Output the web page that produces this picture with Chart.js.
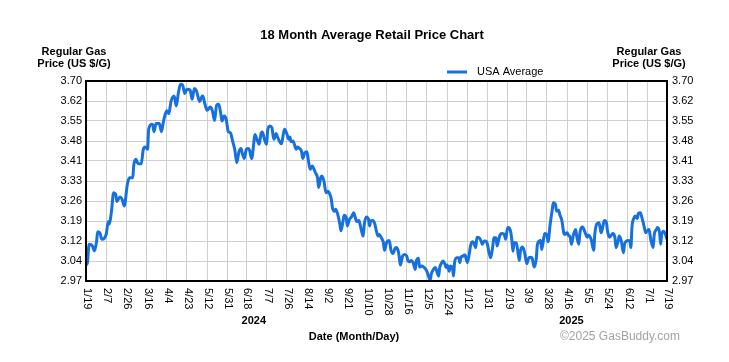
<!DOCTYPE html>
<html><head><meta charset="utf-8">
<script src="https://cdn.jsdelivr.net/npm/chart.js@4/dist/chart.umd.min.js"></script>
<style>html,body{margin:0;padding:0;background:#fff;}canvas{display:block;}</style>
</head><body>
<canvas id="c" width="729" height="362"></canvas>
<script>
const chartTitle = '18 Month Average Retail Price Chart';
const seriesName = 'USA Average';
const yAxisTitle = ['Regular Gas', 'Price (US $/G)'];
const xAxisTitle = 'Date (Month/Day)';
const credit = '\u00A92025 GasBuddy.com';

const yTickLabels = ['2.97','3.04','3.12','3.19','3.26','3.33','3.41','3.48','3.55','3.62','3.70'];
const yMin = 2.97, yMax = 3.70;

// days since 1/19/2024
const xTickDays = [0,19,38,57,76,95,114,133,151,170,189,208,227,246,265,283,302,321,340,359,378,397,415,434,453,472,491,510,529,547];
const xTickLabels = ['1/19','2/7','2/26','3/16','4/4','4/23','5/12','5/31','6/18','7/7','7/26','8/14','9/2','9/21','10/10','10/28','11/16','12/5','12/24','1/12','1/31','2/19','3/9','3/28','4/16','5/5','5/24','6/12','7/1','7/19'];
const yearLabels = ['2024','2025'];
const yearDays = [158, 457];

const days = [0,1,3,6,8,10,11,13,15,17,19,21,22,24,26,28,29,32,34,36,39,41,44,45,47,49,52,54,56,58,59,62,63,64,66,69,71,73,76,78,80,83,85,87,89,91,93,95,98,100,102,104,107,109,110,112,114,117,119,121,123,125,127,128,130,132,134,136,138,140,142,144,146,147,149,151,153,154,156,158,159,161,163,165,166,168,170,171,173,175,176,177,179,180,182,184,186,187,189,191,192,193,195,196,198,199,201,203,204,206,208,209,211,213,214,216,218,219,221,222,224,226,228,229,231,232,234,235,237,239,240,242,243,245,246,248,250,252,254,255,257,258,261,262,264,266,267,268,270,272,273,275,276,278,280,281,283,285,286,287,289,291,292,294,295,296,298,300,302,303,305,306,308,310,311,313,314,316,318,320,321,323,324,325,327,329,330,332,333,335,336,338,339,340,342,343,345,346,347,349,351,352,353,355,356,357,358,359,361,362,364,365,367,368,370,372,373,375,376,378,379,381,383,384,386,387,389,390,392,394,395,397,398,400,401,402,403,405,406,408,409,411,413,415,417,419,420,422,424,425,428,429,431,432,434,435,437,439,440,442,443,445,446,448,450,451,453,454,456,457,459,461,462,464,465,467,468,470,472,473,475,476,478,479,481,483,484,485,487,488,490,491,493,494,496,498,499,501,502,504,506,507,509,510,512,513,514,516,517,519,520,522,523,525,527,528,530,531,532,534,535,537,538,540,541,542,544,545,547];
const prices = [3.086,3.031,3.104,3.098,3.080,3.116,3.150,3.146,3.122,3.125,3.140,3.187,3.177,3.225,3.292,3.286,3.260,3.277,3.268,3.244,3.325,3.347,3.347,3.393,3.414,3.398,3.398,3.451,3.459,3.451,3.524,3.542,3.538,3.515,3.545,3.545,3.515,3.554,3.591,3.581,3.625,3.645,3.609,3.657,3.688,3.685,3.654,3.670,3.667,3.633,3.673,3.664,3.625,3.642,3.645,3.615,3.593,3.605,3.591,3.556,3.612,3.615,3.578,3.554,3.572,3.560,3.515,3.511,3.481,3.451,3.402,3.442,3.454,3.438,3.417,3.451,3.454,3.447,3.417,3.475,3.505,3.487,3.469,3.511,3.514,3.487,3.469,3.518,3.536,3.530,3.505,3.487,3.508,3.499,3.481,3.471,3.511,3.524,3.508,3.487,3.496,3.479,3.481,3.471,3.451,3.459,3.454,3.442,3.417,3.438,3.442,3.420,3.378,3.390,3.384,3.365,3.347,3.311,3.347,3.353,3.335,3.292,3.298,3.292,3.268,3.238,3.225,3.232,3.213,3.177,3.153,3.189,3.210,3.201,3.171,3.195,3.204,3.219,3.195,3.187,3.191,3.177,3.134,3.177,3.204,3.195,3.171,3.189,3.191,3.177,3.159,3.134,3.140,3.128,3.110,3.082,3.110,3.118,3.110,3.085,3.070,3.089,3.092,3.079,3.055,3.028,3.061,3.067,3.061,3.045,3.040,3.045,3.037,3.012,3.043,3.053,3.021,3.025,3.021,3.012,3.004,2.982,2.972,2.994,3.012,3.019,3.009,2.988,3.019,3.037,3.043,3.031,3.019,3.028,3.006,3.025,3.019,2.988,3.037,3.055,3.055,3.037,3.057,3.061,3.065,3.065,3.049,3.037,3.073,3.098,3.113,3.110,3.092,3.130,3.128,3.116,3.104,3.116,3.116,3.104,3.082,3.055,3.098,3.128,3.128,3.098,3.128,3.140,3.143,3.138,3.122,3.165,3.165,3.146,3.116,3.079,3.110,3.110,3.092,3.045,3.079,3.094,3.073,3.033,3.055,3.057,3.053,3.021,3.055,3.104,3.118,3.085,3.128,3.143,3.138,3.113,3.177,3.231,3.256,3.250,3.225,3.228,3.213,3.191,3.143,3.140,3.146,3.138,3.128,3.104,3.140,3.158,3.134,3.104,3.146,3.167,3.165,3.146,3.130,3.138,3.128,3.116,3.082,3.140,3.179,3.183,3.165,3.146,3.177,3.191,3.183,3.152,3.130,3.134,3.143,3.128,3.092,3.116,3.134,3.116,3.073,3.104,3.116,3.118,3.116,3.092,3.165,3.201,3.207,3.198,3.216,3.219,3.207,3.177,3.146,3.152,3.158,3.140,3.116,3.092,3.140,3.158,3.165,3.146,3.104,3.140,3.152,3.146,3.122];

const FONT = '"Liberation Sans", Arial, sans-serif';
const lineColor = '#1670de';
const gridColor = '#cfcfcf';

const deco = {
  id: 'deco',
  afterDraw(chart) {
    const ctx = chart.ctx, a = chart.chartArea, x = chart.scales.x;
    ctx.save();
    ctx.strokeStyle = '#000'; ctx.lineWidth = 2;
    ctx.strokeRect(a.left, a.top, a.right - a.left, a.bottom - a.top);
    ctx.fillStyle = '#000';
    ctx.textAlign = 'center'; ctx.textBaseline = 'middle';
    ctx.font = 'bold 13px ' + FONT;
    ctx.fillText(chartTitle, 372, 35);
    ctx.font = 'bold 11px ' + FONT;
    ctx.fillText(yAxisTitle[0], 74, 52); ctx.fillText(yAxisTitle[1], 74, 64);
    ctx.fillText(yAxisTitle[0], 649, 52); ctx.fillText(yAxisTitle[1], 649, 64);
    ctx.font = '11px ' + FONT;
    ctx.textAlign = 'left';
    xTickDays.forEach((d, i) => {
      const px = x.getPixelForValue(d);
      ctx.save(); ctx.translate(px + 1, a.bottom + 7); ctx.rotate(Math.PI / 2);
      ctx.fillText(xTickLabels[i], 0, 0); ctx.restore();
    });
    ctx.font = 'bold 11px ' + FONT; ctx.textAlign = 'center';
    yearLabels.forEach((t, i) => ctx.fillText(t, x.getPixelForValue(yearDays[i]), 321));
    ctx.fillText(xAxisTitle, 354, 337);
    ctx.font = '12px ' + FONT; ctx.fillStyle = '#a3a3a3'; ctx.textAlign = 'left';
    ctx.fillText(credit, 560, 337);
    ctx.strokeStyle = lineColor; ctx.lineWidth = 3;
    ctx.beginPath(); ctx.moveTo(447, 72); ctx.lineTo(467, 72); ctx.stroke();
    ctx.fillStyle = '#000'; ctx.font = '11px ' + FONT;
    ctx.fillText(seriesName, 477, 72);
    ctx.restore();
  }
};

const yTicksBuild = s => { s.ticks = yTickLabels.map((t, i) => ({ value: yMin + i * (yMax - yMin) / (yTickLabels.length - 1) })); };

new Chart(document.getElementById('c'), {
  type: 'line',
  data: { datasets: [{
    label: seriesName,
    data: days.map((d, i) => ({ x: d, y: prices[i] })),
    borderColor: lineColor, borderWidth: 3, pointRadius: 0,
    cubicInterpolationMode: 'monotone', fill: false
  }] },
  options: {
    responsive: false, animation: false, devicePixelRatio: 1,
    layout: { padding: { top: 81, left: 0, right: 0, bottom: 0 } },
    plugins: { legend: { display: false }, title: { display: false }, tooltip: { enabled: false } },
    scales: {
      x: {
        type: 'linear', min: xTickDays[0], max: xTickDays[xTickDays.length - 1],
        afterBuildTicks: s => { s.ticks = xTickDays.map(v => ({ value: v })); },
        afterFit: s => { s.height = 81; },
        ticks: { display: false },
        grid: { color: gridColor, lineWidth: 1, drawTicks: false },
        border: { display: false }
      },
      y: {
        position: 'left', min: yMin, max: yMax,
        afterBuildTicks: yTicksBuild,
        afterFit: s => { s.width = 86; },
        ticks: { callback: (v, i) => yTickLabels[i], font: { size: 11, family: FONT }, color: '#000', padding: 4, autoSkip: false },
        grid: { color: gridColor, lineWidth: 1, drawTicks: false },
        border: { display: false }
      },
      y2: {
        position: 'right', min: yMin, max: yMax,
        afterBuildTicks: yTicksBuild,
        afterFit: s => { s.width = 62; },
        ticks: { callback: (v, i) => yTickLabels[i], font: { size: 11, family: FONT }, color: '#000', padding: 5, autoSkip: false },
        grid: { display: false, drawTicks: false },
        border: { display: false }
      }
    }
  },
  plugins: [deco]
});
</script>
</body></html>
